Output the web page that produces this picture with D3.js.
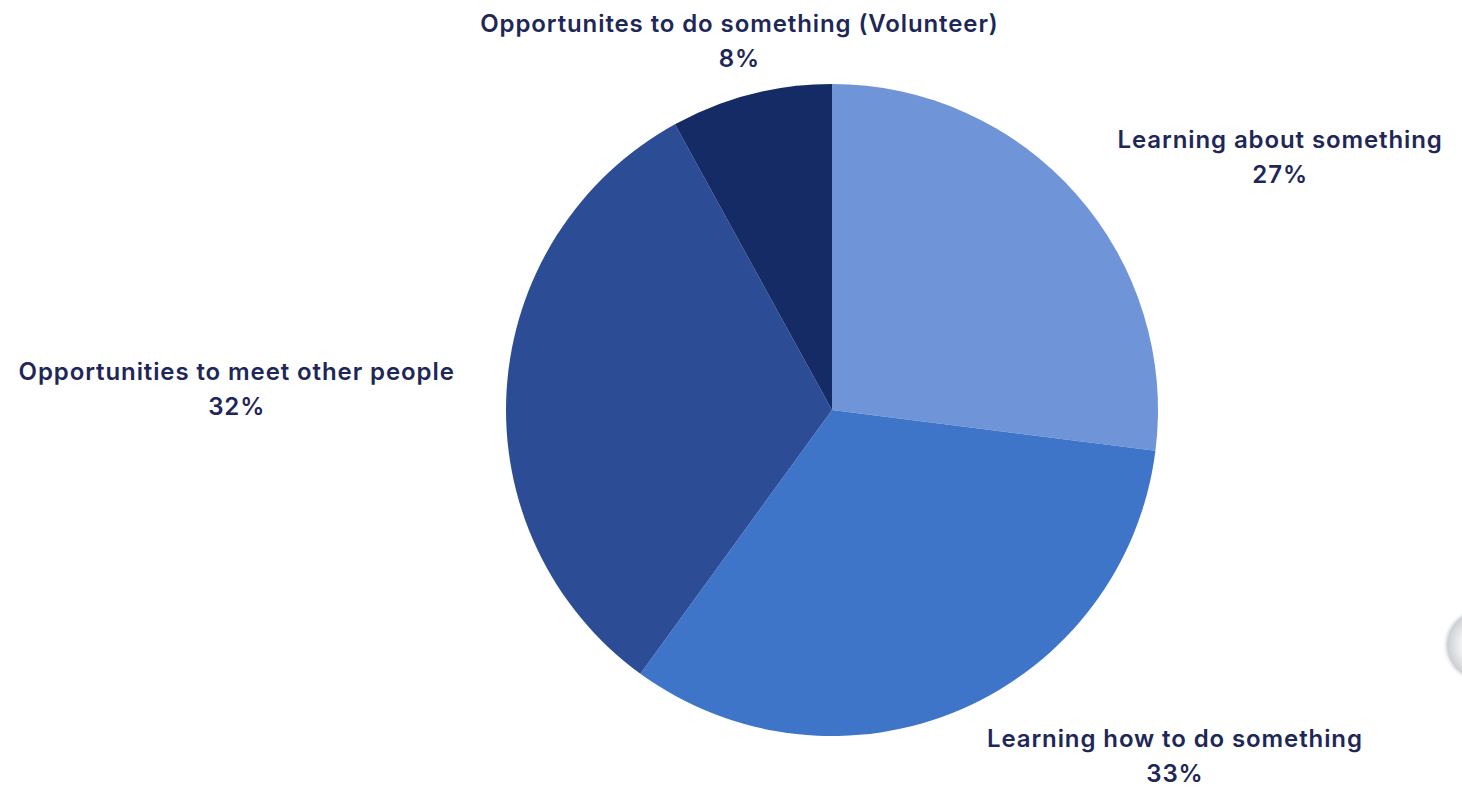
<!DOCTYPE html>
<html>
<head>
<meta charset="utf-8">
<script src="https://cdn.jsdelivr.net/npm/d3@7"></script>
<style>
  html, body { margin: 0; padding: 0; background: #ffffff; }
  svg { display: block; }
  text { font-family: Inter, "Open Sans", sans-serif; font-weight: 600; fill: #1e2757; }
</style>
</head>
<body>
<svg id="chart" width="1462" height="789"></svg>
<script>
// Share of respondents by what they look for
const categories = [
  "Learning about something",
  "Learning how to do something",
  "Opportunities to meet other people",
  "Opportunites to do something (Volunteer)"
];
const shares = [27, 33, 32, 8];
const sliceColors = ["#6f94d7", "#3f75c8", "#2c4c96", "#152b66"];

const width = 1462, height = 789;
const cx = 832, cy = 410, radius = 326;
const fontSize = 24, letterSpacing = 0.9, lineHeight = 35;
const capHeight = fontSize * 0.73;

const svg = d3.select("#chart");

// soft shaded edge sitting at the right margin
const defs = svg.append("defs");
const grad = defs.append("radialGradient")
  .attr("id", "edgeShade")
  .attr("cx", "0.5").attr("cy", "0.5").attr("r", "0.5")
  .attr("fx", "0.62").attr("fy", "0.5");
grad.append("stop").attr("offset", "0.55").attr("stop-color", "#f6f7f8");
grad.append("stop").attr("offset", "0.88").attr("stop-color", "#cdd0d3");
grad.append("stop").attr("offset", "1").attr("stop-color", "#ffffff").attr("stop-opacity", 0);
svg.append("circle")
  .attr("cx", width + 18).attr("cy", 645).attr("r", 38)
  .attr("fill", "url(#edgeShade)");

const pie = d3.pie().value(d => d.value).sort(null);
const arc = d3.arc().innerRadius(0).outerRadius(radius);

const data = categories.map((c, i) => ({ name: c, value: shares[i], color: sliceColors[i] }));
const arcs = pie(data);

const g = svg.append("g").attr("transform", `translate(${cx},${cy})`);

g.selectAll("path.slice")
  .data(arcs)
  .join("path")
  .attr("class", "slice")
  .attr("d", arc)
  .attr("fill", d => d.data.color);

// Two-line labels placed just outside the rim, on the side facing away from the pie
const labelR = radius + 14;
const bottomGap = 7;
arcs.forEach(a => {
  const mid = (a.startAngle + a.endAngle) / 2;
  const s = Math.sin(mid), c = Math.cos(mid);
  const px = labelR * s, py = -labelR * c;

  const block = g.append("g");
  const t1 = block.append("text")
    .attr("text-anchor", "middle")
    .attr("font-size", fontSize)
    .attr("letter-spacing", letterSpacing)
    .attr("y", 0)
    .text(a.data.name);
  block.append("text")
    .attr("text-anchor", "middle")
    .attr("font-size", fontSize)
    .attr("letter-spacing", letterSpacing)
    .attr("y", lineHeight)
    .text(a.data.value + "%");

  const w = t1.node().getComputedTextLength();
  const blockH = lineHeight + capHeight;
  const hGap = 8 + 30 * Math.abs(s);

  let x;
  if (s > 0.3) x = px + hGap + w / 2;
  else if (s < -0.3) x = px - hGap - w / 2;
  else x = px - 8;

  let yTop;
  if (c > 0.3) yTop = py - Math.max(0, 38 * (c - 0.6)) - blockH;
  else if (c < -0.3) yTop = py + bottomGap;
  else yTop = py - blockH / 2;

  block.attr("transform", `translate(${x},${yTop + capHeight})`);
});
</script>
</body>
</html>
